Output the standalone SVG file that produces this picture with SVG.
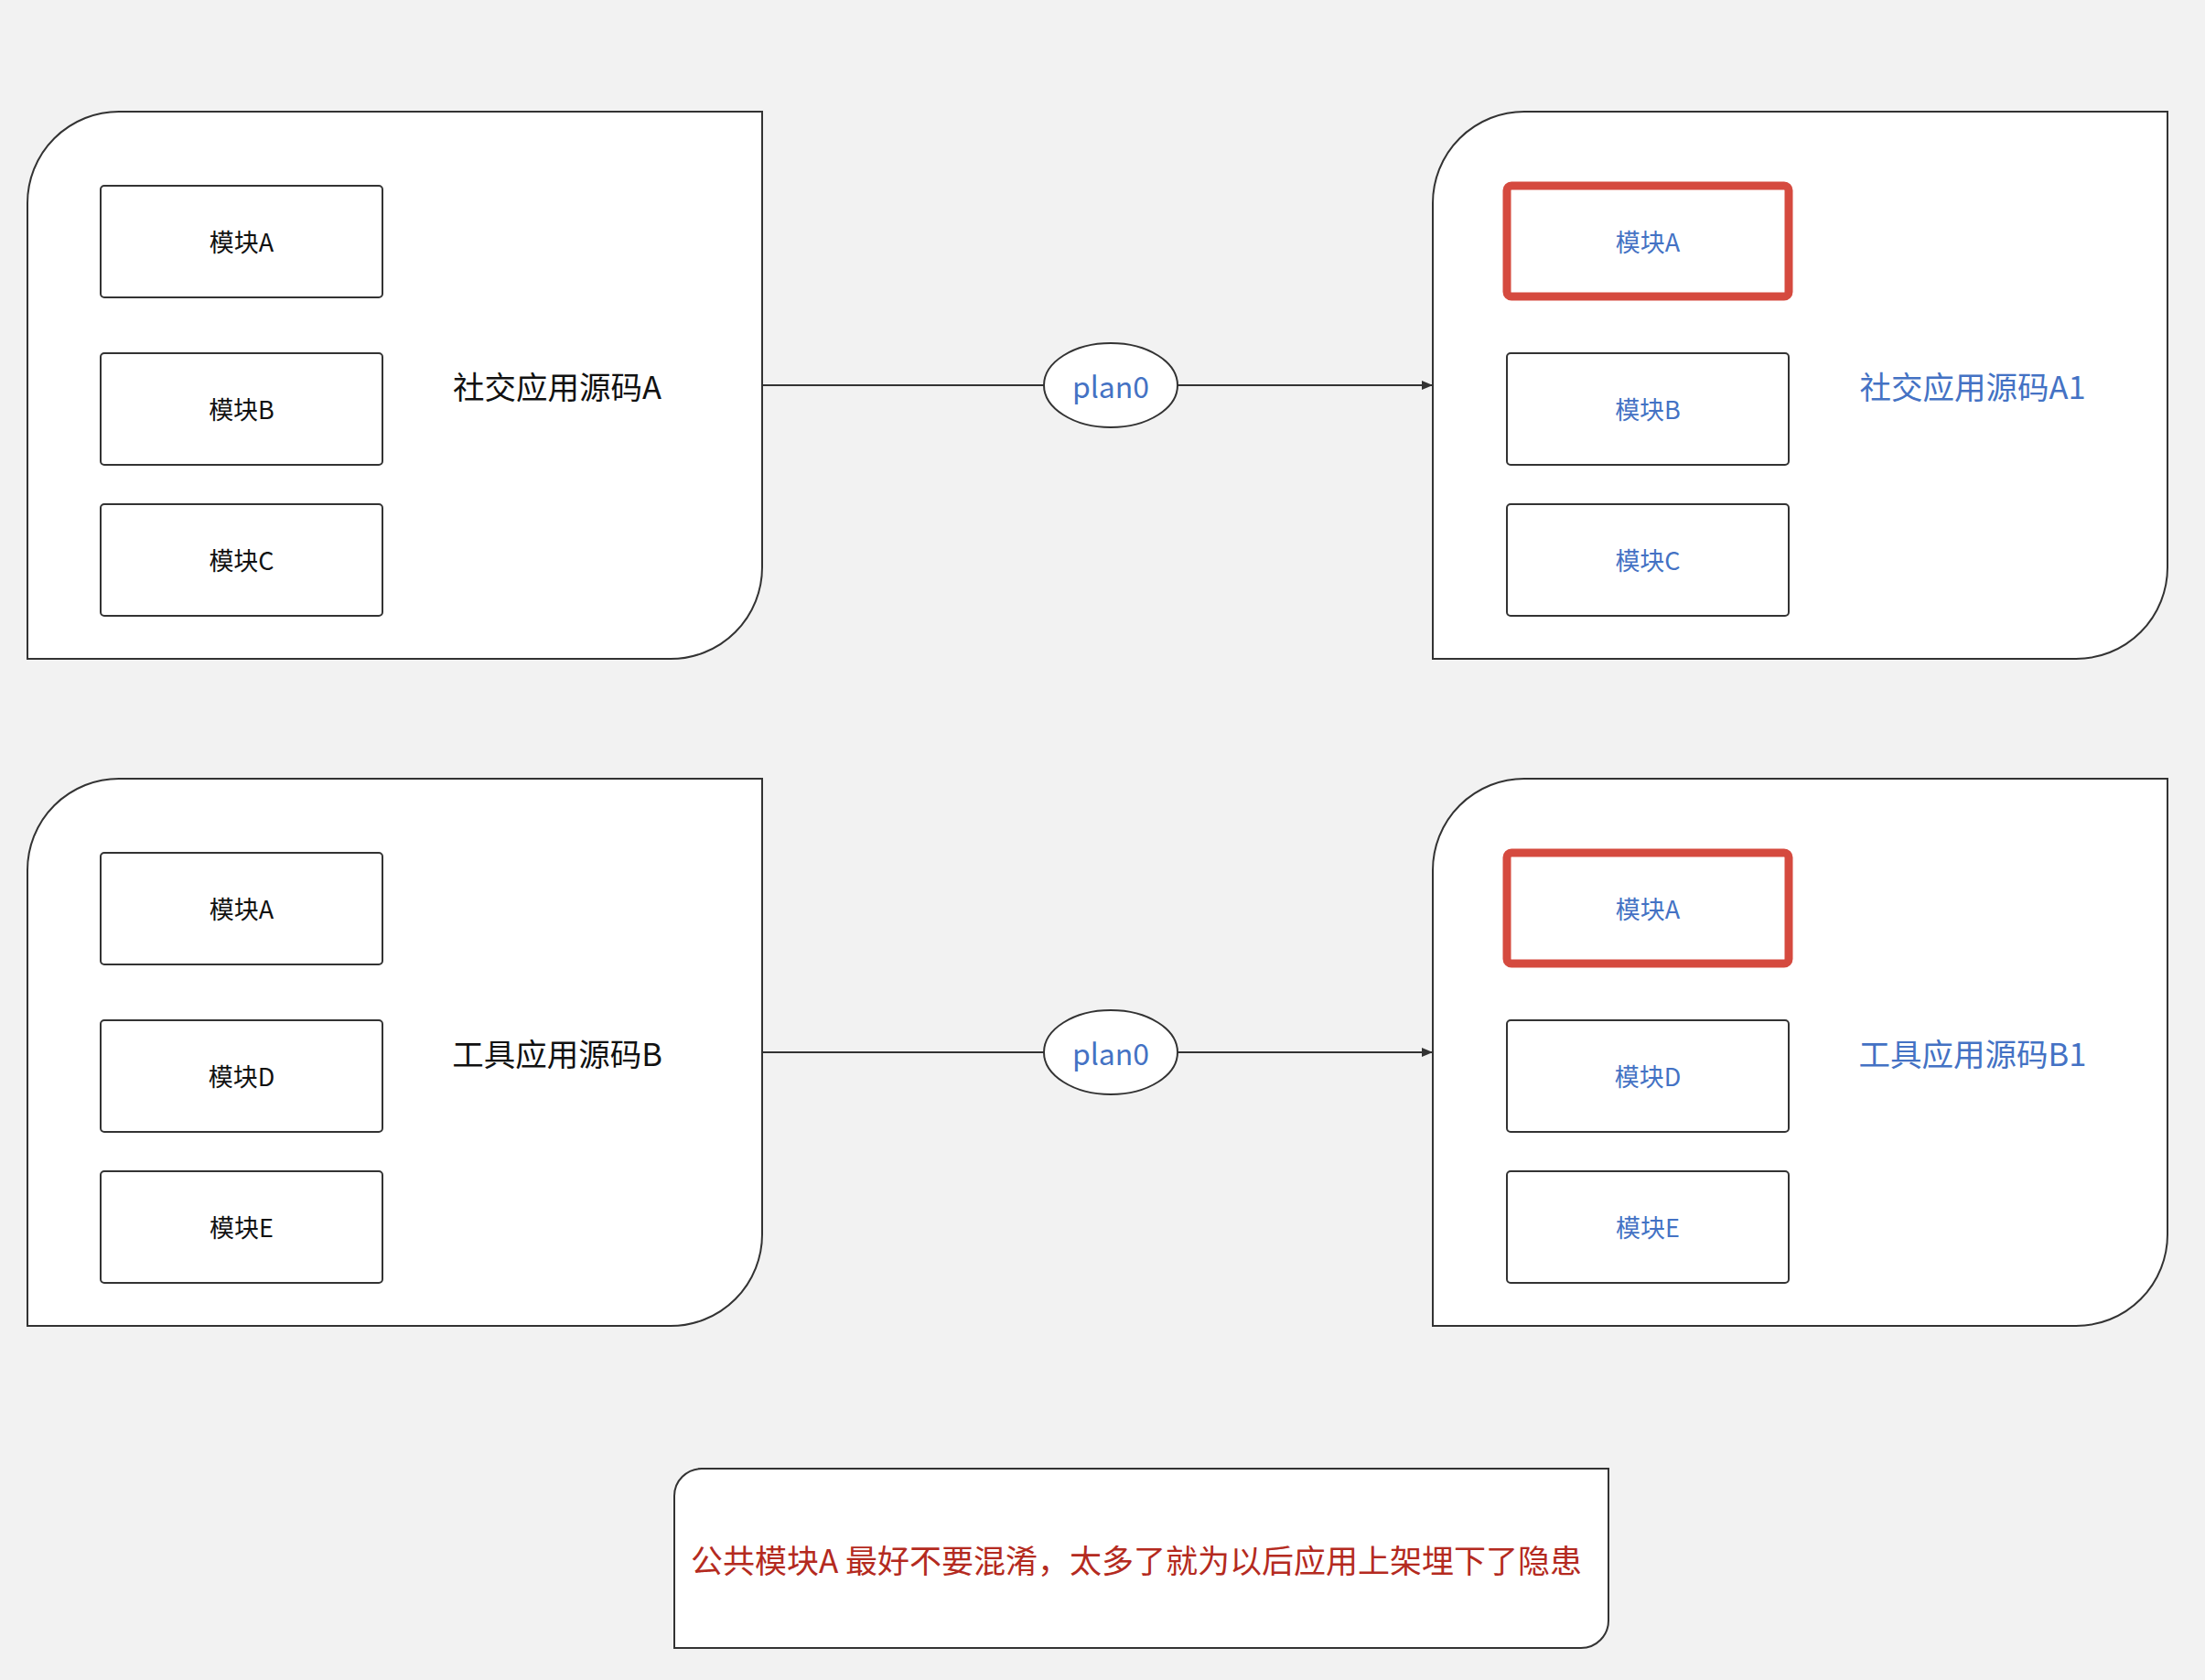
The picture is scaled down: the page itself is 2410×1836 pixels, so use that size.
<svg xmlns="http://www.w3.org/2000/svg" width="2410" height="1836" viewBox="0 0 2410 1836">
<defs>
<style>
.bg{fill:#f2f2f2}
.container{fill:#fff;stroke:#333;stroke-width:2}
.mod{fill:#fff;stroke:#333;stroke-width:2}
.hl{fill:#fff;stroke:#d54a3f;stroke-width:9}
.t{font-family:"Noto Sans CJK SC","Liberation Sans",sans-serif;text-anchor:middle;dominant-baseline:central}
.mt{font-size:27px;fill:#111}
.mtb{font-size:27px;fill:#4472c4}
.title{font-size:34.5px;fill:#111}
.titleb{font-size:34.5px;fill:#4472c4}
.plan{font-size:32px;fill:#4472c4}
.note{font-size:35px;fill:#b42a20}
.edge{fill:none;stroke:#333;stroke-width:2}
.ell{fill:#fff;stroke:#333;stroke-width:2}
</style>
<marker id="arrow" markerUnits="userSpaceOnUse" markerWidth="13" markerHeight="11" refX="12" refY="5" orient="auto">
<path d="M0,0 L12,5 L0,10 Z" fill="#333"/>
</marker>
</defs>
<rect class="bg" x="0" y="0" width="2410" height="1836"/>

<g id="connectors">
<path class="edge" d="M833,421 H1141"/>
<path class="edge" d="M1287,421 H1566" marker-end="url(#arrow)"/>
<path class="edge" d="M833,1150 H1141"/>
<path class="edge" d="M1287,1150 H1566" marker-end="url(#arrow)"/>
</g>

<g id="appA">
<path class="container" d="M130,122 H833 V620 A100,100 0 0 1 733,720 H30 V222 A100,100 0 0 1 130,122 Z"/>
<text class="t title" x="609" y="421">社交应用源码A</text>
</g>
<g id="appA-modA"><rect class="mod" x="110" y="203" width="308" height="122" rx="4"/><text class="t mt" x="264" y="263">模块A</text></g>
<g id="appA-modB"><rect class="mod" x="110" y="386" width="308" height="122" rx="4"/><text class="t mt" x="264" y="446">模块B</text></g>
<g id="appA-modC"><rect class="mod" x="110" y="551" width="308" height="122" rx="4"/><text class="t mt" x="264" y="611">模块C</text></g>

<g id="plan0-top"><ellipse class="ell" cx="1214" cy="421" rx="73" ry="46"/><text class="t plan" x="1214" y="421">plan0</text></g>

<g id="appA1">
<path class="container" d="M1666,122 H2369 V620 A100,100 0 0 1 2269,720 H1566 V222 A100,100 0 0 1 1666,122 Z"/>
<text class="t titleb" x="2156" y="421">社交应用源码A1</text>
</g>
<g id="appA1-modA"><rect class="hl" x="1647" y="203" width="308" height="121" rx="5"/><text class="t mtb" x="1801" y="263">模块A</text></g>
<g id="appA1-modB"><rect class="mod" x="1647" y="386" width="308" height="122" rx="4"/><text class="t mtb" x="1801" y="446">模块B</text></g>
<g id="appA1-modC"><rect class="mod" x="1647" y="551" width="308" height="122" rx="4"/><text class="t mtb" x="1801" y="611">模块C</text></g>

<g id="appB">
<path class="container" d="M130,851 H833 V1349 A100,100 0 0 1 733,1449 H30 V951 A100,100 0 0 1 130,851 Z"/>
<text class="t title" x="609" y="1150">工具应用源码B</text>
</g>
<g id="appB-modA"><rect class="mod" x="110" y="932" width="308" height="122" rx="4"/><text class="t mt" x="264" y="992">模块A</text></g>
<g id="appB-modD"><rect class="mod" x="110" y="1115" width="308" height="122" rx="4"/><text class="t mt" x="264" y="1175">模块D</text></g>
<g id="appB-modE"><rect class="mod" x="110" y="1280" width="308" height="122" rx="4"/><text class="t mt" x="264" y="1340">模块E</text></g>

<g id="plan0-bottom"><ellipse class="ell" cx="1214" cy="1150" rx="73" ry="46"/><text class="t plan" x="1214" y="1150">plan0</text></g>

<g id="appB1">
<path class="container" d="M1666,851 H2369 V1349 A100,100 0 0 1 2269,1449 H1566 V951 A100,100 0 0 1 1666,851 Z"/>
<text class="t titleb" x="2156" y="1150">工具应用源码B1</text>
</g>
<g id="appB1-modA"><rect class="hl" x="1647" y="932" width="308" height="121" rx="5"/><text class="t mtb" x="1801" y="992">模块A</text></g>
<g id="appB1-modD"><rect class="mod" x="1647" y="1115" width="308" height="122" rx="4"/><text class="t mtb" x="1801" y="1175">模块D</text></g>
<g id="appB1-modE"><rect class="mod" x="1647" y="1280" width="308" height="122" rx="4"/><text class="t mtb" x="1801" y="1340">模块E</text></g>

<g id="note">
<path class="container" d="M767,1605 H1758 V1771 A30,30 0 0 1 1728,1801 H737 V1635 A30,30 0 0 1 767,1605 Z"/>
<text class="t note" x="1242" y="1703">公共模块A 最好不要混淆，太多了就为以后应用上架埋下了隐患</text>
</g>
</svg>
